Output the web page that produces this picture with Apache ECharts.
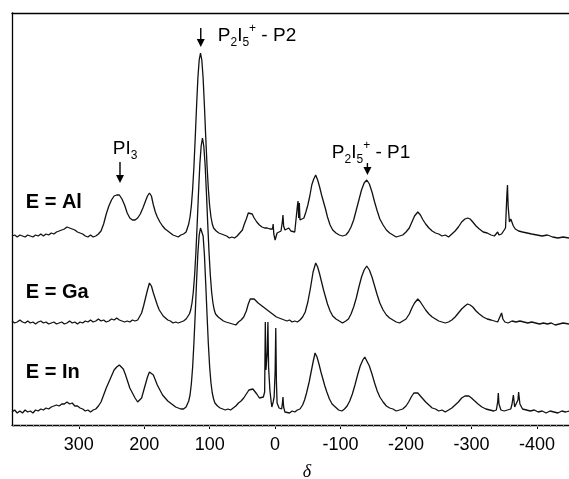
<!DOCTYPE html>
<html><head><meta charset="utf-8">
<script src="https://cdn.jsdelivr.net/npm/echarts@6/dist/echarts.min.js"></script>
<style>html,body{margin:0;padding:0;background:#fff}#c{width:569px;height:479px}</style>
</head><body><div id="c"></div>
<script>
// chemical shift axis (ppm), drawn reversed
const xMin = -449, xMax = 402;
const majorTicks = [300, 200, 100, 0, -100, -200, -300, -400];
const traceNames = ['E = Al', 'E = Ga', 'E = In'];
const baselines = [189, 103, 13];

// [ppm, intensity above own baseline]
const alData = [[402,0],[398,1],[394,-1],[390,1],[386,0],[382,-1],[378,1],[374,0],[370,-1],[366,1],[362,0],[358,2],[354,0],[350,2],[346,1],[342,3],[338,2],[334,4],[330,5],[326,6],[322,7],[318,9],[314,8],[310,7],[306,6],[302,4],[298,3],[294,2],[290,0],[286,-1],[282,1],[278,-1],[274,0],[270,2],[266,5],[262,12],[258,22],[254,30],[250,36],[246,40],[242,41],[238,41],[234,37],[230,31],[226,23],[222,18],[218,16],[214,16],[210,18],[206,22],[202,28],[198,35],[195,40],[192,43],[189,40],[186,31],[183,24],[180,19],[176,14],[172,10],[168,7],[164,5],[160,3],[156,1],[152,0],[148,-1],[144,1],[140,2],[136,4],[134,8],[132,12],[130,19],[128,30],[126,47],[124,70],[122,99],[120,130],[118,158],[116,176],[114,183],[112,176],[110,158],[108,130],[106,99],[104,70],[102,47],[100,30],[98,19],[96,12],[94,8],[90,5],[86,3],[82,2],[78,1],[74,0],[70,-2],[66,-1],[62,-2],[58,0],[54,3],[50,6],[47,12],[44,17],[41,23],[38,25],[35,22],[32,18],[28,14],[24,11],[20,9],[16,8],[12,8],[8,7],[5,6],[4,7],[3,12],[2,2],[0,-4],[-1.5,-6],[-3,3],[-6,4],[-9,5],[-11,14],[-12,21],[-13,10],[-15,6],[-18,7],[-21,8],[-24,5],[-27,6],[-30,4],[-33,6],[-34,30],[-35,35],[-36,18],[-37,33],[-38,16],[-41,14],[-44,18],[-47,24],[-50,31],[-53,40],[-56,51],[-59,57],[-62,61],[-65,56],[-68,49],[-71,41],[-74,34],[-77,27],[-80,19],[-84,11],[-88,6],[-93,3],[-98,1],[-103,0],[-108,1],[-112,4],[-116,9],[-120,16],[-124,26],[-128,36],[-132,46],[-136,53],[-140,56],[-144,52],[-148,44],[-152,34],[-156,25],[-160,17],[-165,11],[-170,6],[-175,3],[-180,1],[-185,-1],[-190,0],[-195,1],[-200,4],[-205,8],[-209,14],[-213,20],[-218,24],[-222,21],[-226,16],[-230,12],[-235,8],[-240,5],[-245,3],[-250,2],[-255,0],[-260,1],[-265,-1],[-270,2],[-275,5],[-280,9],[-285,14],[-290,17],[-294,18],[-298,17],[-302,14],[-307,10],[-312,7],[-318,4],[-324,3],[-330,1],[-335,0],[-338,2],[-340,4],[-342,1],[-346,2],[-349,2],[-352,8],[-354,40],[-355,51],[-356,30],[-358,14],[-360,17],[-362,19],[-364,10],[-367,7],[-372,5],[-378,4],[-385,3],[-392,2],[-400,1],[-408,0],[-416,1],[-424,-1],[-432,-2],[-440,-1],[-449,-2]];

const gaData = [[402,1],[398,-1],[394,0],[390,2],[386,0],[382,-1],[378,1],[374,-1],[370,0],[366,-2],[362,0],[358,1],[354,-1],[350,0],[346,-2],[342,-1],[338,0],[334,-2],[330,-1],[326,0],[322,-2],[318,-1],[314,1],[310,-1],[306,0],[302,-2],[298,0],[294,-1],[290,1],[286,0],[282,2],[278,0],[274,1],[270,3],[266,1],[262,2],[258,0],[254,1],[250,3],[246,2],[242,4],[238,2],[234,1],[230,0],[226,1],[222,0],[218,2],[214,1],[210,2],[207,4],[204,9],[201,16],[198,24],[195,32],[192,39],[189,36],[186,29],[183,23],[180,17],[177,12],[174,9],[171,6],[168,4],[164,2],[160,1],[156,-1],[152,0],[148,-1],[144,0],[140,1],[136,3],[133,5],[131,8],[129,12],[127,19],[125,30],[123,47],[121,70],[119,99],[117,130],[115,158],[113,176],[111,184],[109,176],[107,158],[105,130],[103,99],[101,70],[99,47],[97,30],[95,19],[93,12],[91,8],[87,5],[83,3],[79,1],[75,0],[70,-1],[65,-2],[60,-3],[56,0],[52,2],[48,5],[44,11],[41,18],[38,23],[35,25],[32,23],[29,21],[26,19],[22,17],[18,15],[14,13],[10,11],[6,9],[2,7],[-2,5],[-6,4],[-10,3],[-14,2],[-18,1],[-22,2],[-26,0],[-30,1],[-34,0],[-38,2],[-42,5],[-46,10],[-50,20],[-54,34],[-58,50],[-62,59],[-65,55],[-68,48],[-71,40],[-74,32],[-77,25],[-80,18],[-84,11],[-88,6],[-93,3],[-98,1],[-103,-1],[-108,1],[-112,3],[-116,8],[-120,15],[-124,24],[-128,35],[-132,45],[-136,52],[-140,56],[-144,52],[-148,45],[-152,36],[-156,27],[-160,19],[-165,12],[-170,7],[-175,4],[-180,2],[-185,0],[-190,-1],[-195,1],[-200,3],[-205,8],[-209,14],[-213,19],[-218,23],[-222,20],[-226,16],[-230,12],[-235,8],[-240,5],[-245,3],[-250,1],[-255,0],[-260,-1],[-265,0],[-270,2],[-275,5],[-280,9],[-285,13],[-290,16],[-294,18],[-298,17],[-302,15],[-307,11],[-312,8],[-318,5],[-324,3],[-330,2],[-335,1],[-340,0],[-343,2],[-346,9],[-348,3],[-351,0],[-356,-1],[-362,1],[-368,0],[-374,1],[-380,0],[-386,-1],[-392,0],[-398,-1],[-404,-2],[-410,-1],[-416,-2],[-422,-1],[-428,-3],[-434,-2],[-440,-1],[-449,-2]];

const inData = [[402,0],[398,2],[394,-1],[390,1],[386,-1],[382,2],[378,0],[374,1],[370,-1],[366,2],[362,1],[358,3],[354,2],[350,4],[346,3],[342,5],[338,6],[334,7],[330,6],[326,8],[322,8],[318,10],[314,8],[310,9],[306,6],[302,6],[298,4],[294,3],[290,1],[286,2],[282,0],[278,2],[274,3],[270,6],[266,10],[262,17],[258,24],[254,30],[250,36],[246,42],[242,45],[238,47],[235,47],[232,43],[229,38],[226,32],[222,24],[218,19],[214,14],[210,10],[207,9],[204,14],[201,21],[198,28],[195,35],[192,40],[189,42],[186,37],[183,32],[180,27],[176,22],[172,17],[168,14],[164,11],[160,9],[156,7],[152,5],[148,4],[144,3],[140,3],[136,5],[134,7],[132,11],[130,17],[128,28],[126,45],[124,70],[122,99],[120,131],[118,159],[116,177],[114,184],[112,185],[110,176],[108,157],[106,128],[104,97],[102,68],[100,45],[98,29],[96,19],[94,13],[92,9],[88,6],[84,4],[80,3],[76,2],[72,3],[68,2],[64,4],[60,6],[56,9],[52,11],[48,14],[44,18],[40,22],[37,24],[34,23],[31,21],[28,18],[24,14],[21,12],[18,15],[16,20],[15,90],[14,42],[12,60],[11,90],[10,45],[8,22],[6,10],[5,5],[3,10],[1.5,15],[0,40],[-1,84],[-2,30],[-3,9],[-6,4],[-8,2],[-10,3],[-11,8],[-12,15],[-13,5],[-15,0],[-18,1],[-22,-1],[-26,1],[-30,0],[-34,2],[-38,3],[-42,7],[-45,12],[-48,19],[-52,30],[-55,40],[-58,50],[-61,59],[-64,55],[-67,48],[-70,40],[-73,33],[-76,26],[-79,20],[-83,13],[-87,8],[-92,5],[-97,2],[-102,1],[-106,3],[-110,6],[-114,11],[-118,18],[-122,27],[-126,37],[-130,46],[-134,52],[-137,55],[-140,53],[-144,46],[-148,38],[-152,29],[-156,21],[-160,15],[-165,10],[-170,6],[-175,4],[-180,3],[-185,1],[-190,2],[-195,3],[-200,6],[-204,10],[-208,15],[-212,19],[-215,20],[-218,19],[-222,16],[-226,13],[-230,10],[-235,7],[-240,4],[-245,3],[-250,1],[-255,2],[-260,0],[-265,2],[-270,4],[-275,7],[-280,10],[-285,14],[-290,16],[-293,17],[-296,16],[-300,14],[-305,11],[-310,8],[-316,5],[-322,3],[-328,2],[-334,1],[-338,2],[-340,10],[-341,19],[-342,8],[-345,2],[-350,1],[-355,2],[-360,3],[-362,8],[-364,17],[-366,5],[-369,6],[-371,12],[-372,20],[-374,8],[-378,3],[-384,2],[-390,1],[-396,2],[-402,0],[-408,1],[-414,-1],[-420,1],[-426,0],[-432,-1],[-438,1],[-444,0],[-449,1]];

// annotation anchors in data units: [ppm, y]
const traceLabelPos = [[381, 223], [381, 133], [381, 53]];
const peakLabels = [
  {text: 'PI{sub|3}', pos: [248, 276]},
  {text: 'P{sub|2}I{sub|5}{sup|+} - P2', pos: [87.6, 389]},
  {text: 'P{sub|2}I{sub|5}{sup|+} - P1', pos: [-86.7, 272]}
];
const arrows = [
  {ppm: 237, from: 263, to: 242},
  {ppm: 113.6, from: 397, to: 378},
  {ppm: -141, from: 262, to: 250}
];
const axisSymbol = {text: 'δ', pos: [-48.5, 0]};

const chart = echarts.init(document.getElementById('c'), null, {renderer: 'canvas'});
const traces = [alData, gaData, inData];
const sans = "'Liberation Sans', Arial, sans-serif";

const minorTicks = [];
for (let v = 400; v >= -440; v -= 10) minorTicks.push(v);

chart.setOption({
  animation: false,
  backgroundColor: '#fff',
  grid: {left: 12, right: 0, top: 13, bottom: 54},
  xAxis: [
    {type: 'value', min: xMin, max: xMax, inverse: true, position: 'bottom',
     axisLine: {show: true, onZero: false, lineStyle: {color: '#000', width: 1.3}},
     axisTick: {show: true, customValues: majorTicks, length: 4, inside: false, lineStyle: {color: '#000'}},
     axisLabel: {show: true, customValues: majorTicks, margin: 11, color: '#000', fontSize: 18, fontFamily: sans},
     splitLine: {show: false}},
    {type: 'value', min: xMin, max: xMax, inverse: true, position: 'bottom',
     axisLine: {show: false, onZero: false},
     axisTick: {show: true, customValues: minorTicks, length: 2, lineStyle: {color: '#888'}},
     axisLabel: {show: false}, splitLine: {show: false}},
    {type: 'value', min: xMin, max: xMax, inverse: true, position: 'top',
     axisLine: {show: true, onZero: false, lineStyle: {color: '#000', width: 1.3}},
     axisTick: {show: false}, axisLabel: {show: false}, splitLine: {show: false}}
  ],
  yAxis: {type: 'value', min: 0, max: 412, position: 'left',
    axisLine: {show: true, onZero: false, lineStyle: {color: '#000', width: 1.3}},
    axisTick: {show: false}, axisLabel: {show: false}, splitLine: {show: false}},
  series: traces.map((d, i) => ({
    name: traceNames[i], type: 'line', xAxisIndex: 0, yAxisIndex: 0,
    showSymbol: false, symbol: 'none', smooth: false,
    lineStyle: {color: '#111', width: 1.3},
    data: d.map(p => [p[0], p[1] + baselines[i]])
  }))
});

function px(p) { return chart.convertToPixel({xAxisIndex: 0, yAxisIndex: 0}, p); }

const rich = {
  sub: {fontSize: 12, fontFamily: sans, verticalAlign: 'bottom', lineHeight: 12, fill: '#000', color: '#000'},
  sup: {fontSize: 12, fontFamily: sans, verticalAlign: 'top', lineHeight: 12, fill: '#000', color: '#000'}
};
const g = [];
traceLabelPos.forEach((p, i) => {
  const q = px(p);
  g.push({type: 'text', x: q[0], y: q[1], style: {text: traceNames[i], fill: '#000',
    font: "bold 20px 'Liberation Sans', Arial, sans-serif", textAlign: 'left', textVerticalAlign: 'middle'}});
});
peakLabels.forEach(l => {
  const q = px(l.pos);
  g.push({type: 'text', x: q[0], y: q[1], style: {text: l.text, rich: rich, fill: '#000',
    fontSize: 19, fontFamily: sans, lineHeight: 26, textAlign: 'left', textVerticalAlign: 'middle'}});
});
arrows.forEach(a => {
  const p1 = px([a.ppm, a.from]), p2 = px([a.ppm, a.to]);
  g.push({type: 'line', shape: {x1: p1[0], y1: p1[1], x2: p2[0], y2: p2[1] - 6},
    style: {stroke: '#000', lineWidth: 1.4}});
  g.push({type: 'polygon', shape: {points: [[p2[0] - 4, p2[1] - 8], [p2[0] + 4, p2[1] - 8], [p2[0], p2[1]]]},
    style: {fill: '#000'}});
});
{
  const q = px([axisSymbol.pos[0], 0]);
  g.push({type: 'text', x: q[0], y: 463, style: {text: axisSymbol.text, fill: '#000',
    font: "italic 18px 'Liberation Serif', 'Times New Roman', serif", textAlign: 'center', textVerticalAlign: 'top'}});
}
chart.setOption({graphic: g});
</script>
</body></html>
